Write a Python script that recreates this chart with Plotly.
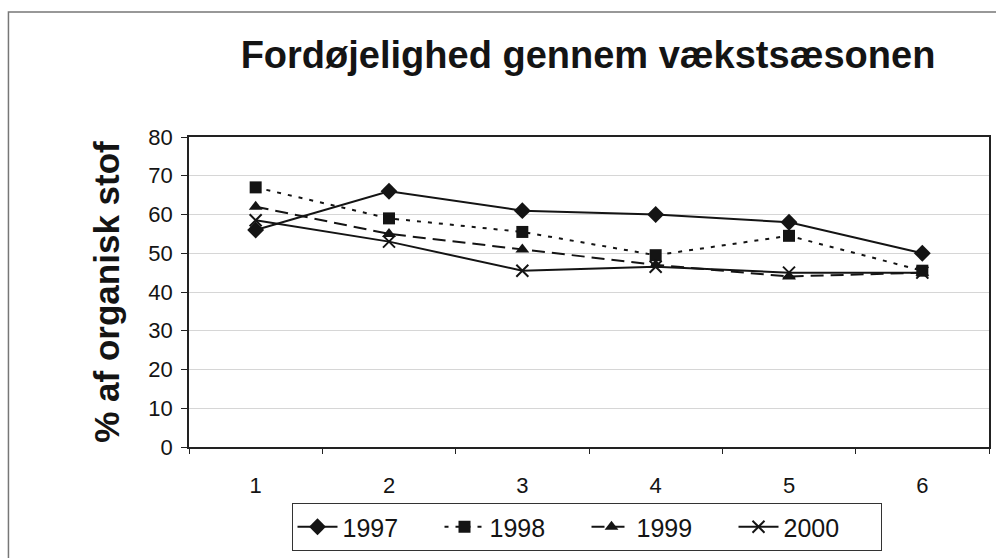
import plotly.graph_objects as go

categories = ["1", "2", "3", "4", "5", "6"]
y1997 = [56, 66, 61, 60, 58, 50]
y1998 = [67, 59, 55.5, 49.5, 54.5, 45.5]
y1999 = [62, 55, 51, 47, 44, 45]
y2000 = [58.5, 53, 45.5, 46.5, 45, 45]
series_names = ["1997", "1998", "1999", "2000"]
y_ticks = [0, 10, 20, 30, 40, 50, 60, 70, 80]

ink = "#141414"
styles = [
    dict(dash="solid", symbol="diamond", size=13),
    dict(dash="4px,7px", symbol="square", size=12),
    dict(dash="13px,7px", symbol="triangle-up", size=12),
    dict(dash="solid", symbol="x-thin", size=12),
]

fig = go.Figure()
for name, vals, st in zip(series_names, [y1997, y1998, y1999, y2000], styles):
    marker = dict(symbol=st["symbol"], size=st["size"], color=ink)
    if st["symbol"] == "x-thin":
        marker["line"] = dict(color=ink, width=2)
    fig.add_trace(go.Scatter(
        x=categories, y=vals, name=name, mode="lines+markers",
        line=dict(color=ink, width=2, dash=st["dash"]),
        marker=marker,
    ))

L, R, T, B = 189, 991, 137, 447
W, H = 996, 558
pw, ph = R - L, B - T

fig.update_layout(
    width=W, height=H,
    margin=dict(l=L, r=W - R, t=T, b=H - B),
    paper_bgcolor="white", plot_bgcolor="white",
    font=dict(family="Liberation Sans, Arial, sans-serif", color=ink, size=22),
    title=dict(text="<b>Fordøjelighed gennem vækstsæsonen</b>",
               x=588 / W, xanchor="center", y=1 - 55 / H, yanchor="middle",
               font=dict(size=38, color=ink)),
    showlegend=True,
    legend=dict(orientation="h", x=(587.5 - L) / pw, xanchor="center",
                y=(B - 527) / ph, yanchor="middle",
                bordercolor="#333", borderwidth=1, bgcolor="white",
                font=dict(size=25, color=ink), itemwidth=40,
                entrywidth=92, entrywidthmode="pixels",
                tracegroupgap=0),
    xaxis=dict(type="category", range=[-0.5, 5.5], showgrid=False,
               showline=True, linecolor="#222", linewidth=1.5, mirror=True,
               ticks="outside", tickson="boundaries", ticklen=5,
               tickcolor="#222", tickfont=dict(size=22), fixedrange=True,
               ticklabelstandoff=18),
    yaxis=dict(range=[0, 80], tickvals=y_ticks, showgrid=True,
               gridcolor="#d6d6d6", gridwidth=1,
               showline=True, linecolor="#222", linewidth=1.5, mirror=True,
               ticks="outside", ticklen=6, tickcolor="#222",
               tickfont=dict(size=22), zeroline=False,
               ticklabelstandoff=4,
               title=dict(text="<b>% af organisk stof</b>",
                          font=dict(size=35, color=ink), standoff=18)),
)

# outer chart frame (scanned Excel chart area border)
fig.add_shape(type="rect", xref="paper", yref="paper",
              x0=(8 - L) / pw, x1=(1004 - L) / pw,
              y0=(B - 570) / ph, y1=(B - 12) / ph,
              line=dict(color="#777", width=1.5), layer="below")

fig.write_html("out.html", config={"displayModeBar": False},
               post_script="document.body.style.margin='0';document.body.style.overflow='hidden';")
